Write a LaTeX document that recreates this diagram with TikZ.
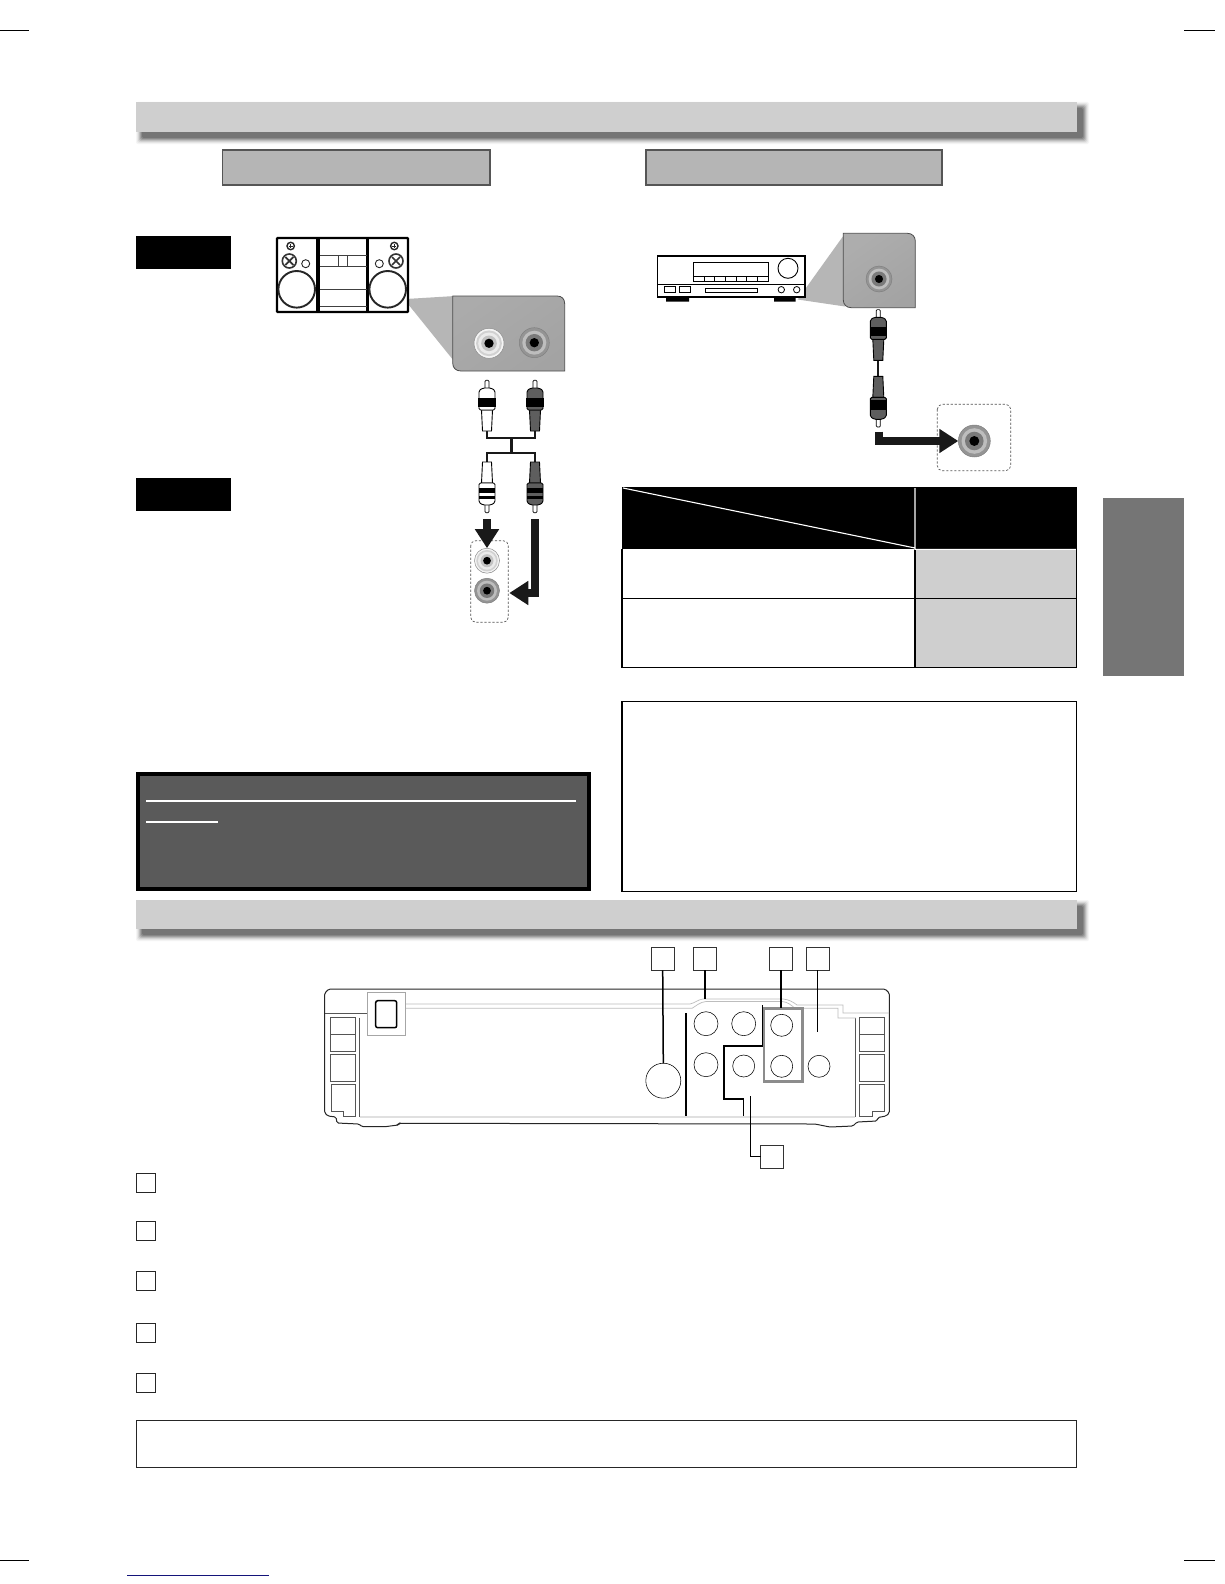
\documentclass[tikz,border=0pt]{standalone}
\usetikzlibrary{arrows.meta,calc}
\definecolor{bandgray}{HTML}{CFCFCF}
\definecolor{subgray}{HTML}{B5B5B5}
\definecolor{tabgray}{HTML}{757575}
\definecolor{darkpanel}{HTML}{5A5A5A}
\definecolor{thinline}{HTML}{555555}
\definecolor{paleline}{HTML}{BDBDBD}
\definecolor{wedgegray}{HTML}{B6B6B6}
\definecolor{frame}{HTML}{8C8C8C}
\definecolor{plugdark}{HTML}{5E5E5E}
\definecolor{linkblue}{HTML}{14147A}
\tikzset{
  x=1pt,y=-1pt,
  outlinebox/.style={draw=black,line width=1.2,fill=white},
  subhead/.style={draw=thinline,line width=1.1,fill=subgray},
  labelbox/.style={draw=black!80,line width=1,fill=white,rectangle,inner sep=0,outer sep=0,minimum size=23},
  listbox/.style={draw=black!85,line width=1,fill=white,rectangle,inner sep=0,outer sep=0,minimum size=19},
  portc/.style={draw=black,line width=.55,fill=white,circle,inner sep=0,outer sep=0},
  leader/.style={draw=black,line width=1.5},
  fatarrow/.style={draw=black!90,line width=7.6,-{Triangle[width=23,length=19]}},
  cable/.style={draw=black!90,line width=2.3},
  hair/.style={draw=thinline,line width=.6},
  pale/.style={draw=paleline,line width=.7},
  cropmark/.style={draw=black,line width=.9}
}
\newcommand{\bandshadow}[4]{%
  \foreach \d/\c in {6/4,5/9,4/16,3/26,2/36,1/46,0/54}{
    \fill[black!\c,rounded corners=2] ({#1+6-\d},{#2+6-\d}) rectangle ({#3+6+\d},{#4+6+\d});
  }
  \fill[bandgray] (#1,#2) rectangle (#3,#4);
}
% #1 name, #2 x, #3 y, #4 radius
\newcommand{\jacklight}[4]{%
  \node[circle,draw=black!45,line width=.5,fill=black!4,inner sep=0,outer sep=0,minimum size={2*#4}] (#1) at (#2,#3) {};
  \fill[black!18] (#2,#3) circle ({#4*.86});
  \fill[black!8] (#2,#3) circle ({#4*.72});
  \fill[black!24] (#2,#3) circle ({#4*.52});
  \fill[black] (#2,#3) circle ({#4*.31});
}
\newcommand{\jackdark}[4]{%
  \node[circle,draw=black!50,line width=.5,fill=black!42,inner sep=0,outer sep=0,minimum size={2*#4}] (#1) at (#2,#3) {};
  \fill[black!26] (#2,#3) circle ({#4*.8});
  \fill[black!52] (#2,#3) circle ({#4*.58});
  \fill[black] (#2,#3) circle ({#4*.31});
}
% tip at (#1,#2); #3=+1 tip above, -1 tip below; #4 body colour; #5 ring code
\newcommand{\rcaplug}[5]{%
  \begin{scope}[shift={(#1,#2)},yscale=#3]
    \draw[black,line width=.7,fill=white,rounded corners=1] (-2,9) -- (-2,.3) -- (2,.3) -- (2,9);
    \draw[black,line width=.9,fill=#4] (-5.5,30) -- (-4.5,51) -- (4.5,51) -- (5.5,30) -- cycle;
    \draw[black,line width=.9,fill=#4,rounded corners=1.5] (-8,30) -- (-8,10.5) -- (-4,8) -- (4,8) -- (8,10.5) -- (8,30) -- cycle;
    #5
  \end{scope}
}
\newcommand{\ringone}{\fill[black] (-8.6,17.5) rectangle (8.6,27);}
\newcommand{\ringtwo}{\fill[black] (-8.3,14) rectangle (8.3,17.5); \fill[black] (-8.3,20.5) rectangle (8.3,25);}
\begin{document}
\begin{tikzpicture}
\useasboundingbox (0,0) rectangle (1224,1584);
\fill[white] (0,0) rectangle (1224,1584);

% crop marks and footer rule
\draw[cropmark] (0,30) -- (29,30);
\draw[cropmark] (1184,30) -- (1215,30);
\draw[cropmark] (0,1560) -- (29,1560);
\draw[cropmark] (1184,1560) -- (1215,1560);
\draw[draw=linkblue,line width=1] (127,1575.3) -- (268.7,1575.3);

% bands and heads
\bandshadow{136}{102}{1077}{132}
\draw[subhead] (222.5,150) rectangle (490,185);
\draw[subhead] (646,150) rectangle (942,185);
\fill[black] (136,236) rectangle (231,269);
\fill[black] (136,477.5) rectangle (231,511);

% stereo wedge + panel
\fill[wedgegray] (406,299) -- (455,296) -- (462,371) -- (408,304) -- cycle;
\shade[left color=black!33,middle color=black!20,right color=black!36,shading angle=35]
  (452.7,296) -- (557,296) .. controls (562,296) and (564.7,299) .. (564.7,304) -- (564.7,371) -- (461,371) .. controls (456,371) and (452.7,368) .. (452.7,363) -- cycle;
\draw[black!70,line width=.8] (452.7,363) -- (452.7,296) -- (557,296) .. controls (562,296) and (564.7,299) .. (564.7,304) -- (564.7,371) -- (461,371) .. controls (456,371) and (452.7,368) .. (452.7,363);
\jacklight{jstereoL}{489}{343.3}{15}
\jackdark{jstereoR}{534.3}{342.7}{15}

% stereo system
\draw[black,line width=2.2,fill=white,rounded corners=.8] (277,238) rectangle (408,312);
\draw[black,line width=3.4] (318,238) -- (318,312);
\draw[black,line width=2.2] (367.5,238) -- (367.5,312);
\draw[black!75,line width=.7] (320,255.3) -- (367,255.3) (320,266.3) -- (367,266.3) (338.3,255.3) -- (338.3,266.3) (347.7,255.3) -- (347.7,266.3) (320,289.3) -- (367,289.3) (320,306.7) -- (367,306.7);
\foreach \sx/\kx/\tx/\smx in {296.7/289.3/290.7/305.7,387.7/396/394.3/379.3}{
  \draw[black!85,line width=1.9,fill=white] (\sx,289.3) circle (18.3);
  \draw[black!80,line width=1.6] (\kx,261) circle (7);
  \draw[black!80,line width=1.7] (\kx-4,257) -- (\kx+4,265) (\kx-4,265) -- (\kx+4,257);
  \draw[black!85,line width=.9] (\smx,263.7) circle (4);
  \draw[black!85,line width=1.4] (\tx,246) circle (3.7);
  \draw[black!85,line width=.8] (\tx-2,246) -- (\tx+2,246) (\tx,244) -- (\tx,248);
}

% stereo plugs and cables
\coordinate (yu) at (511.3,438.3);
\coordinate (yl) at (511.3,453);
\draw[cable] (487,428) |- (yu) -| (535,428);
\draw[cable,line width=2.8] (yu) -- (yl);
\draw[cable] (487,465) |- (yl) -| (535,465);
\rcaplug{487}{380}{1}{white}{\ringone}
\rcaplug{535}{380}{1}{plugdark}{\ringone}
\rcaplug{487}{513}{-1}{white}{\ringtwo}
\rcaplug{535}{513}{-1}{plugdark}{\ringtwo}

% stereo inputs on the unit
\draw[thinline,line width=.7,dashed,dash pattern=on 2.2pt off 1.8pt,rounded corners=5] (470.7,540.7) rectangle (508.3,622.3);
\jacklight{jinL}{487}{560.7}{12.5}
\jackdark{jinR}{487}{590.7}{12.5}
\coordinate (aS1) at (487,519);
\coordinate (aS2) at (534.8,519);
\coordinate (aT2) at (509.3,593);
\draw[fatarrow] (aS1) -- (jinL.north);
\draw[fatarrow] (aS2) |- (aT2);

% amp wedge + panel
\fill[wedgegray] (797.7,299.5) -- (845,233.5) -- (845,306.5) -- cycle;
\shade[left color=black!32,middle color=black!22,right color=black!36,shading angle=35]
  (843.3,233.3) -- (907.3,233.3) .. controls (912,233.3) and (915.3,236.5) .. (915.3,241) -- (915.3,307.7) -- (851.3,307.7) .. controls (846.5,307.7) and (843.3,304.5) .. (843.3,300) -- cycle;
\draw[black!70,line width=.8] (843.3,300) -- (843.3,233.3) -- (907.3,233.3) .. controls (912,233.3) and (915.3,236.5) .. (915.3,241) -- (915.3,307.7) -- (851.3,307.7) .. controls (846.5,307.7) and (843.3,304.5) .. (843.3,300);
\jackdark{jamp}{879}{279}{13}

% amplifier
\fill[black] (666,297) rectangle (689,301.7) (774,297) rectangle (795.7,301.7);
\draw[black,line width=1.7,fill=white] (657.5,256.3) rectangle (805.3,297.3);
\draw[black,line width=.9] (657.5,284.3) -- (805.3,284.3);
\draw[black,line width=.8] (693.3,262.7) rectangle (768.7,281.7);
\draw[black,line width=.7] (693.3,276) -- (768.7,276);
\foreach \vx in {704,714.7,725.3,736,746.7,757.3}{\draw[black,line width=.6] (\vx,276) -- (\vx,281.7);}
\draw[black,line width=.9] (788,268.3) circle (10);
\draw[black,line width=.8] (664,286.7) rectangle (675,292.3) (679.3,286.7) rectangle (690.7,292.3) (705.3,288.3) rectangle (757.7,292.3);
\draw[black,line width=.8] (781.3,289.7) circle (3.2) (796.7,289.7) circle (3.2);

% single coaxial plug
\coordinate (cabA) at (878.3,356);
\coordinate (cabB) at (878.3,380);
\draw[cable] (cabA) -- (cabB);
\rcaplug{878.3}{309.3}{1}{plugdark}{\ringone}
\rcaplug{878.3}{427.3}{-1}{plugdark}{\ringone}
\draw[thinline,line width=.7,dashed,dash pattern=on 2.2pt off 1.8pt,rounded corners=5] (937.3,404.3) rectangle (1010.7,470.7);
\jackdark{jcoax}{974.3}{441}{16}
\coordinate (aS3) at (879,431.7);
\draw[fatarrow] (aS3) |- (jcoax.west);

% table
\fill[black] (622,487) rectangle (1076.5,549.3);
\fill[bandgray] (915,549.3) rectangle (1076.5,667.7);
\draw[black,line width=1.2] (622,549.3) -- (622,667.7) -- (1076.5,667.7) -- (1076.5,549.3) (622,598.3) -- (1076.5,598.3) (915,549.3) -- (915,667.7);
\draw[white,line width=1.1] (623,488) -- (915,548) (915,488) -- (915,549.3) -- (1075.8,549.3);
% side tab
\fill[tabgray] (1102.8,498) rectangle (1183.7,676);

% boxes
\draw[outlinebox] (622,701.3) rectangle (1076.5,891.3);
\draw[black,line width=4.5,fill=darkpanel] (138.2,773.9) rectangle (588.8,888.8);
\draw[white,line width=1.8] (146,800.7) -- (576,800.7) (146,821.7) -- (218,821.7);
\bandshadow{136}{900}{1077}{929}

% rear panel
\draw[black!85,line width=1,fill=white,rounded corners=1.5] (329,989) -- (885,989) -- (889.3,993) -- (889.3,1113) -- (886,1116) -- (878,1117.5) -- (877,1121) -- (857,1122) -- (853,1126) -- (830,1127) -- (815,1124) -- (399,1123.3) -- (398,1125) -- (385,1126.7) -- (362,1126.7) -- (359,1124) -- (337,1123) -- (336,1117) -- (328,1116) -- (324.7,1113) -- (324.7,993) -- cycle;
\draw[draw=black!12,line width=2.2] (359.5,1116.7) -- (855,1116.7);
\draw[hair] (359.3,1017.7) -- (359.3,1116.7) (855.3,1018) -- (855.3,1116.7);
\draw[hair] (325,1013.3) -- (367,1013.3);
\draw[hair] (330.7,1017.3) rectangle (355.7,1051.7) (330.7,1034.3) -- (355.7,1034.3);
\draw[hair] (330.7,1054) rectangle (355.7,1081.7);
\draw[hair] (331,1084) -- (331,1111.7) -- (343.3,1111.7) -- (343.3,1116.7) -- (355.7,1116.7) -- (355.7,1084) -- cycle;
\draw[hair] (859.3,1017.3) rectangle (884.3,1051.3) (859.3,1034.3) -- (884.3,1034.3);
\draw[hair] (859.3,1054.3) rectangle (884.3,1081.7);
\draw[hair] (859.3,1116.7) -- (872,1116.7) -- (872,1111.7) -- (884.3,1111.7) -- (884.3,1084) -- (859.3,1084) -- cycle;
% inner ridge
\draw[pale] (405,1004) -- (690,1004) .. controls (695,1003) and (698,999.5) .. (703,999) -- (783,999) .. controls (789,999.5) and (793,1002) .. (797,1005) -- (843,1005) -- (843,1013) -- (889,1013);
\draw[pale] (405,1008.3) -- (692,1008.3) .. controls (696,1006) and (700,1002) .. (706,1001.5) -- (782,1001.5) .. controls (788,1002) and (791,1005) .. (795,1008.3) -- (838,1008.3) -- (838,1018) -- (856,1018);
% power inlet
\draw[draw=black!35,line width=.8,fill=white] (367.3,992.3) rectangle (405,1035.3);
\draw[black,line width=1.5,rounded corners=2] (375.7,1000.7) rectangle (396.7,1027.7);

% jacks on panel
\node[portc,minimum size=35] (pbig) at (663.3,1080.7) {};
\node[portc,minimum size=24] (p1) at (706,1023.7) {};
\node[portc,minimum size=24] (p2) at (743.7,1023.7) {};
\node[portc,minimum size=22] (p3) at (781.7,1025.3) {};
\node[portc,minimum size=24] (p4) at (706,1064.7) {};
\node[portc,minimum size=22] (p5) at (743.7,1066) {};
\node[portc,minimum size=22] (p6) at (781.7,1066.3) {};
\node[portc,minimum size=22] (p7) at (819,1066.3) {};
\draw[draw=frame,line width=2.7] (764,1008.3) rectangle (802.7,1081.7);

% labels and leaders
\node[labelbox] (la) at (662.7,958.8) {};
\node[labelbox] (lb) at (705,958.8) {};
\node[labelbox] (lc) at (781,958.8) {};
\node[labelbox] (ld) at (817.7,958.8) {};
\node[labelbox] (le) at (772.4,1156.5) {};
\coordinate (eb) at (lb.south |- 0,999);
\coordinate (ec) at (lc.south |- 0,1007.7);
\coordinate (ed) at (ld.south |- 0,1031.7);
\coordinate (ee) at (750.7,1095.7);
\coordinate (sepA) at (686,1013.3);
\coordinate (sepB) at (686,1115.7);
\coordinate (poA) at (743.3,1115.7);
\coordinate (poB) at (724,1099);
\coordinate (poC) at (762.3,1046);
\coordinate (poD) at (762.3,1005);
\draw[leader] (la.south) -- (pbig.north);
\draw[leader] (lb.south) -- (eb);
\draw[leader] (lc.south) -- (ec);
\draw[leader] (ld.south) -- (ed);
\draw[leader] (le.west) -| (ee);
\draw[leader] (sepA) -- (sepB);
\draw[leader] (poA) |- (poB) |- (poC) -- (poD);

% list squares
\node[listbox] (s1) at (146.2,1183) {};
\node[listbox] (s2) at (146.2,1230.7) {};
\node[listbox] (s3) at (146.2,1281.2) {};
\node[listbox] (s4) at (146.2,1332.8) {};
\node[listbox] (s5) at (146.2,1383.3) {};
\draw[outlinebox,draw=black!85] (136.3,1420.7) rectangle (1076.3,1467.3);
\end{tikzpicture}
\end{document}
